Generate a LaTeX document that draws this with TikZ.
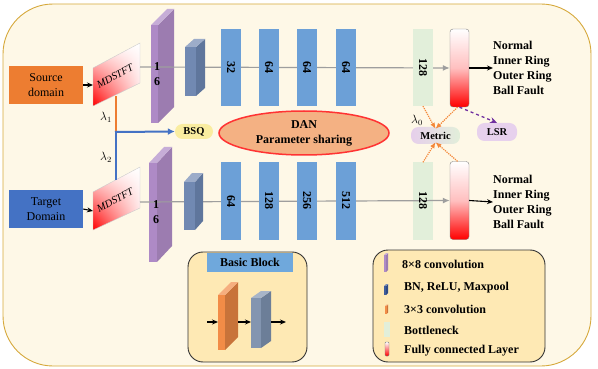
\documentclass[tikz,border=0pt]{standalone}
\usepackage{fontspec}
\setmainfont{Liberation Serif}
\usetikzlibrary{arrows.meta,shapes.geometric,calc,shadings}

\definecolor{bgc}{HTML}{FEF8E7}
\definecolor{framec}{HTML}{D6A93C}
\definecolor{srcc}{HTML}{ED7D31}
\definecolor{tgtc}{HTML}{4472C4}
\definecolor{purf}{HTML}{AE8AC6}
\definecolor{purs}{HTML}{9C7CB0}
\definecolor{bnf}{HTML}{7189B2}
\definecolor{bns}{HTML}{5F769C}
\definecolor{bnd}{HTML}{3E5C9A}
\definecolor{bnds}{HTML}{2E4A85}
\definecolor{convc}{HTML}{6CA0D7}
\definecolor{bneckc}{HTML}{E2EFDA}
\definecolor{danc}{HTML}{F4B183}
\definecolor{danb}{HTML}{FF3333}
\definecolor{bsqc}{HTML}{FAEDA0}
\definecolor{metl}{HTML}{E6CFEB}
\definecolor{metr}{HTML}{E2EFDA}
\definecolor{lsrc}{HTML}{E7D1ED}
\definecolor{legc}{HTML}{FEE9B4}
\definecolor{titc}{HTML}{6FA8DC}
\definecolor{orf}{HTML}{F28C47}
\definecolor{ors}{HTML}{C8733A}
\definecolor{gyf}{HTML}{8395B0}
\definecolor{gys}{HTML}{6C7E98}
\definecolor{odc}{HTML}{F4883A}
\definecolor{pdc}{HTML}{7030A0}
\definecolor{glc}{HTML}{9E9E9E}

\newcommand\mycuboid[8]{%
  \fill[#8] (#1+#3,#2) -- ++(#5,-#6) -- ++(0,#4) -- ++(-#5,#6) -- cycle;
  \fill[#7!70!white] (#1,#2) -- ++(#5,-#6) -- ++(#3,0) -- ++(-#5,#6) -- cycle;
  \fill[#7] (#1,#2) rectangle ++(#3,#4);
}

\tikzset{
  lbl/.style={font=\bfseries\fontsize{12}{15}\selectfont, align=left, anchor=west, inner sep=0pt},
  conv/.style={fill=convc, minimum width=20pt, minimum height=77pt, inner sep=0pt},
  num/.style={rotate=-90, inner sep=0pt, font=\bfseries\fontsize{12}{14}\selectfont},
  bneck/.style={fill=bneckc, minimum width=20pt, minimum height=77pt, inner sep=0pt},
  fcl/.style={draw=gray, top color=white, bottom color=red, middle color=red!25!white, rounded corners=3pt, minimum width=19pt, minimum height=78pt, inner sep=0pt},
  pill/.style={rounded corners=7.5pt, inner sep=0pt, font=\bfseries\fontsize{10.5}{12}\selectfont},
  dombox/.style={minimum width=74pt, minimum height=38pt, inner sep=0pt, align=center, font=\fontsize{12}{14.5}\selectfont},
  gline/.style={glc, line width=1.2pt, -{Latex[length=7pt,width=6pt]}},
  blk/.style={black, line width=1.1pt, -{Stealth[length=6pt,width=5pt]}},
  odot/.style={odc, line width=1.2pt, densely dotted, -{Latex[length=6pt,width=5pt]}},
  pdash/.style={pdc, line width=1.3pt, dashed, -{Stealth[length=7pt,width=6pt]}},
  legtxt/.style={anchor=west, inner sep=0pt, font=\bfseries\fontsize{12}{14}\selectfont},
  panel/.style={draw=black!80, line width=0.9pt, fill=legc, rounded corners=15pt},
  lam/.style={inner sep=0pt, font=\fontsize{12}{14}\selectfont},
  mdshade/.style={draw=gray!40, lower left=red, upper right=white, upper left=white, lower right=red!12!white},
  mdtext/.style={rotate=28, inner sep=0pt, font=\itshape\fontsize{10.5}{12}\selectfont}
}

\begin{document}
\begin{tikzpicture}[x=1pt,y=-1pt]
\useasboundingbox (0,0) rectangle (598,369);
% frame
\draw[framec, line width=0.9pt, fill=bgc, rounded corners=50pt] (3,4) rectangle (591,366);

% ---------- source row ----------
\node[dombox, fill=srcc] (src) at (46,85) {Source\\domain};
\shade[mdshade] (93,68) -- (140,43) -- (140,83) -- (93,106) -- cycle;
\node[mdtext] (mdst) at (115,76) {MDSTFT};
\coordinate (mdsL) at (93,85);
\coordinate (mdsE) at (140,67);
\draw[blk] (src.east) -- (mdsL);

\mycuboid{151}{25}{7}{98}{16}{16}{purf}{purs}
\node[bneck] (bs) at (423,67.5) {};
\node[fcl] (fs) at (459.5,68) {};
\draw[gline] (mdsE) -- (fs.west);
\node[inner sep=0pt, align=center, font=\bfseries\fontsize{12}{15}\selectfont] (p16s) at (157,74.5) {1\\6};
\mycuboid{185}{47}{11}{49}{9}{8}{bnf}{bns}
\node[conv] (s1) at (231,67.5) {}; \node[num] (s1t) at (s1) {32};
\node[conv] (s2) at (269,67.5) {}; \node[num] (s2t) at (s2) {64};
\node[conv] (s3) at (307,67.5) {}; \node[num] (s3t) at (s3) {64};
\node[conv] (s4) at (346,67.5) {}; \node[num] (s4t) at (s4) {64};
\node[bneck] (bs2) at (423,67.5) {}; \node[num] (bst) at (bs2) {128};
\node[lbl] (outs) at (493,68) {Normal\\Inner Ring\\Outer Ring\\Ball Fault};
\draw[blk] (fs.east) -- (outs.west);

% ---------- target row ----------
\node[dombox, fill=tgtc] (tgt) at (46,209) {Target\\Domain};
\shade[mdshade] (93,192) -- (140,167) -- (140,208) -- (93,230) -- cycle;
\node[mdtext] (mdtt) at (115,200) {MDSTFT};
\coordinate (mdtL) at (93,211);
\coordinate (mdtE) at (140,202);
\draw[blk] (tgt.east) -- (mdtL);

\mycuboid{149}{163}{8}{99}{15}{16}{purf}{purs}
\node[bneck] (bt) at (423,201) {};
\node[fcl] (ft) at (459.5,200.5) {};
\draw[gline] (mdtE) -- (ft.west);
\node[inner sep=0pt, align=center, font=\bfseries\fontsize{12}{15}\selectfont] (p16t) at (156,212) {1\\6};
\mycuboid{184}{182}{11}{48}{8}{9}{bnf}{bns}
\node[conv] (t1) at (231,201) {}; \node[num] (t1t) at (t1) {64};
\node[conv] (t2) at (269,201) {}; \node[num] (t2t) at (t2) {128};
\node[conv] (t3) at (307,201) {}; \node[num] (t3t) at (t3) {256};
\node[conv] (t4) at (346,201) {}; \node[num] (t4t) at (t4) {512};
\node[num] (btt) at (bt) {128};
\node[lbl] (outt) at (493,202) {Normal\\Inner Ring\\Outer Ring\\Ball Fault};
\draw[blk] (ft.east) -- (outt.west);

% ---------- middle ----------
\coordinate (lamtop) at (116,96);
\coordinate (lamj) at (116,132);
\coordinate (lambot) at (116,180);
\node[pill, fill=bsqc, minimum width=38pt, minimum height=15pt] (bsq) at (194,131.5) {BSQ};
\draw[srcc, line width=2pt] (lamtop) -- (lamj);
\draw[tgtc, line width=2pt] (lamj) -- (lambot);
\draw[tgtc, line width=2pt, -{Latex[length=7pt,width=7pt]}] ([xshift=-1pt]lamj) -- (bsq.west);
\node[lam] (lam1) at (106,117) {$\lambda_1$};
\node[lam] (lam2) at (106,157) {$\lambda_2$};

\node[ellipse, draw=danb, line width=1.5pt, fill=danc, minimum width=170pt, minimum height=44pt, inner sep=0pt,
  align=center, font=\bfseries\fontsize{12}{15}\selectfont] (dan) at (304,133) {DAN\\Parameter sharing};

\node[pill, left color=metl, right color=metr, minimum width=49pt, minimum height=17pt] (metric) at (435.5,135.5) {Metric};
\node[pill, fill=lsrc, minimum width=40pt, minimum height=18pt] (lsr) at (497,132) {LSR};
\node[lam] (lam0) at (417,120) {$\lambda_0$};

\draw[odot] (bs.south) -- ([yshift=-2pt]metric.north);
\draw[odot] ([xshift=-2pt]fs.south) -- ([yshift=-2pt]metric.north);
\draw[odot] (bt.north) -- ([yshift=2pt]metric.south);
\draw[odot] ([xshift=-2pt]ft.north) -- ([yshift=2pt]metric.south);
\draw[pdash] (fs.south) -- (lsr.north);

% ---------- basic block ----------
\node[panel, minimum width=119pt, minimum height=110pt] (bb) at (247.5,307) {};
\node[fill=titc, minimum width=86pt, minimum height=19pt, inner sep=0pt, font=\bfseries\fontsize{12}{14}\selectfont] (bbt) at (250,262.5) {Basic Block};
\mycuboid{218}{295}{7}{55}{13}{13}{orf}{ors}
\mycuboid{251}{298}{10}{50}{10}{7}{gyf}{gys}
\coordinate (bba) at (207,322);
\coordinate (bbb) at (218,322);
\coordinate (bbc) at (238,322);
\coordinate (bbd) at (251,322);
\coordinate (bbe) at (271,322);
\coordinate (bbf) at (286,322);
\draw[blk] (bba) -- (bbb);
\draw[blk] (bbc) -- (bbd);
\draw[blk] (bbe) -- (bbf);

% ---------- legend ----------
\node[panel, minimum width=172pt, minimum height=112pt] (leg) at (459,306) {};
\mycuboid{384}{255}{2}{17}{2}{2}{purf}{purs}
\mycuboid{384}{286}{2}{9}{2}{2}{bnd}{bnds}
\mycuboid{385}{306}{1.5}{8}{1.5}{1.5}{orf}{ors}
\fill[bneckc] (384,322) rectangle (390,337);
\draw[gray, top color=white, bottom color=red, rounded corners=1pt] (385,342) rectangle (389,356);
\node[legtxt] (l1) at (402,264) {8×8 convolution};
\node[legtxt] (l2) at (404,288) {BN, ReLU, Maxpool};
\node[legtxt] (l3) at (404,309) {3×3 convolution};
\node[legtxt] (l4) at (404,330) {Bottleneck};
\node[legtxt] (l5) at (404,351) {Fully connected Layer};
\end{tikzpicture}
\end{document}
